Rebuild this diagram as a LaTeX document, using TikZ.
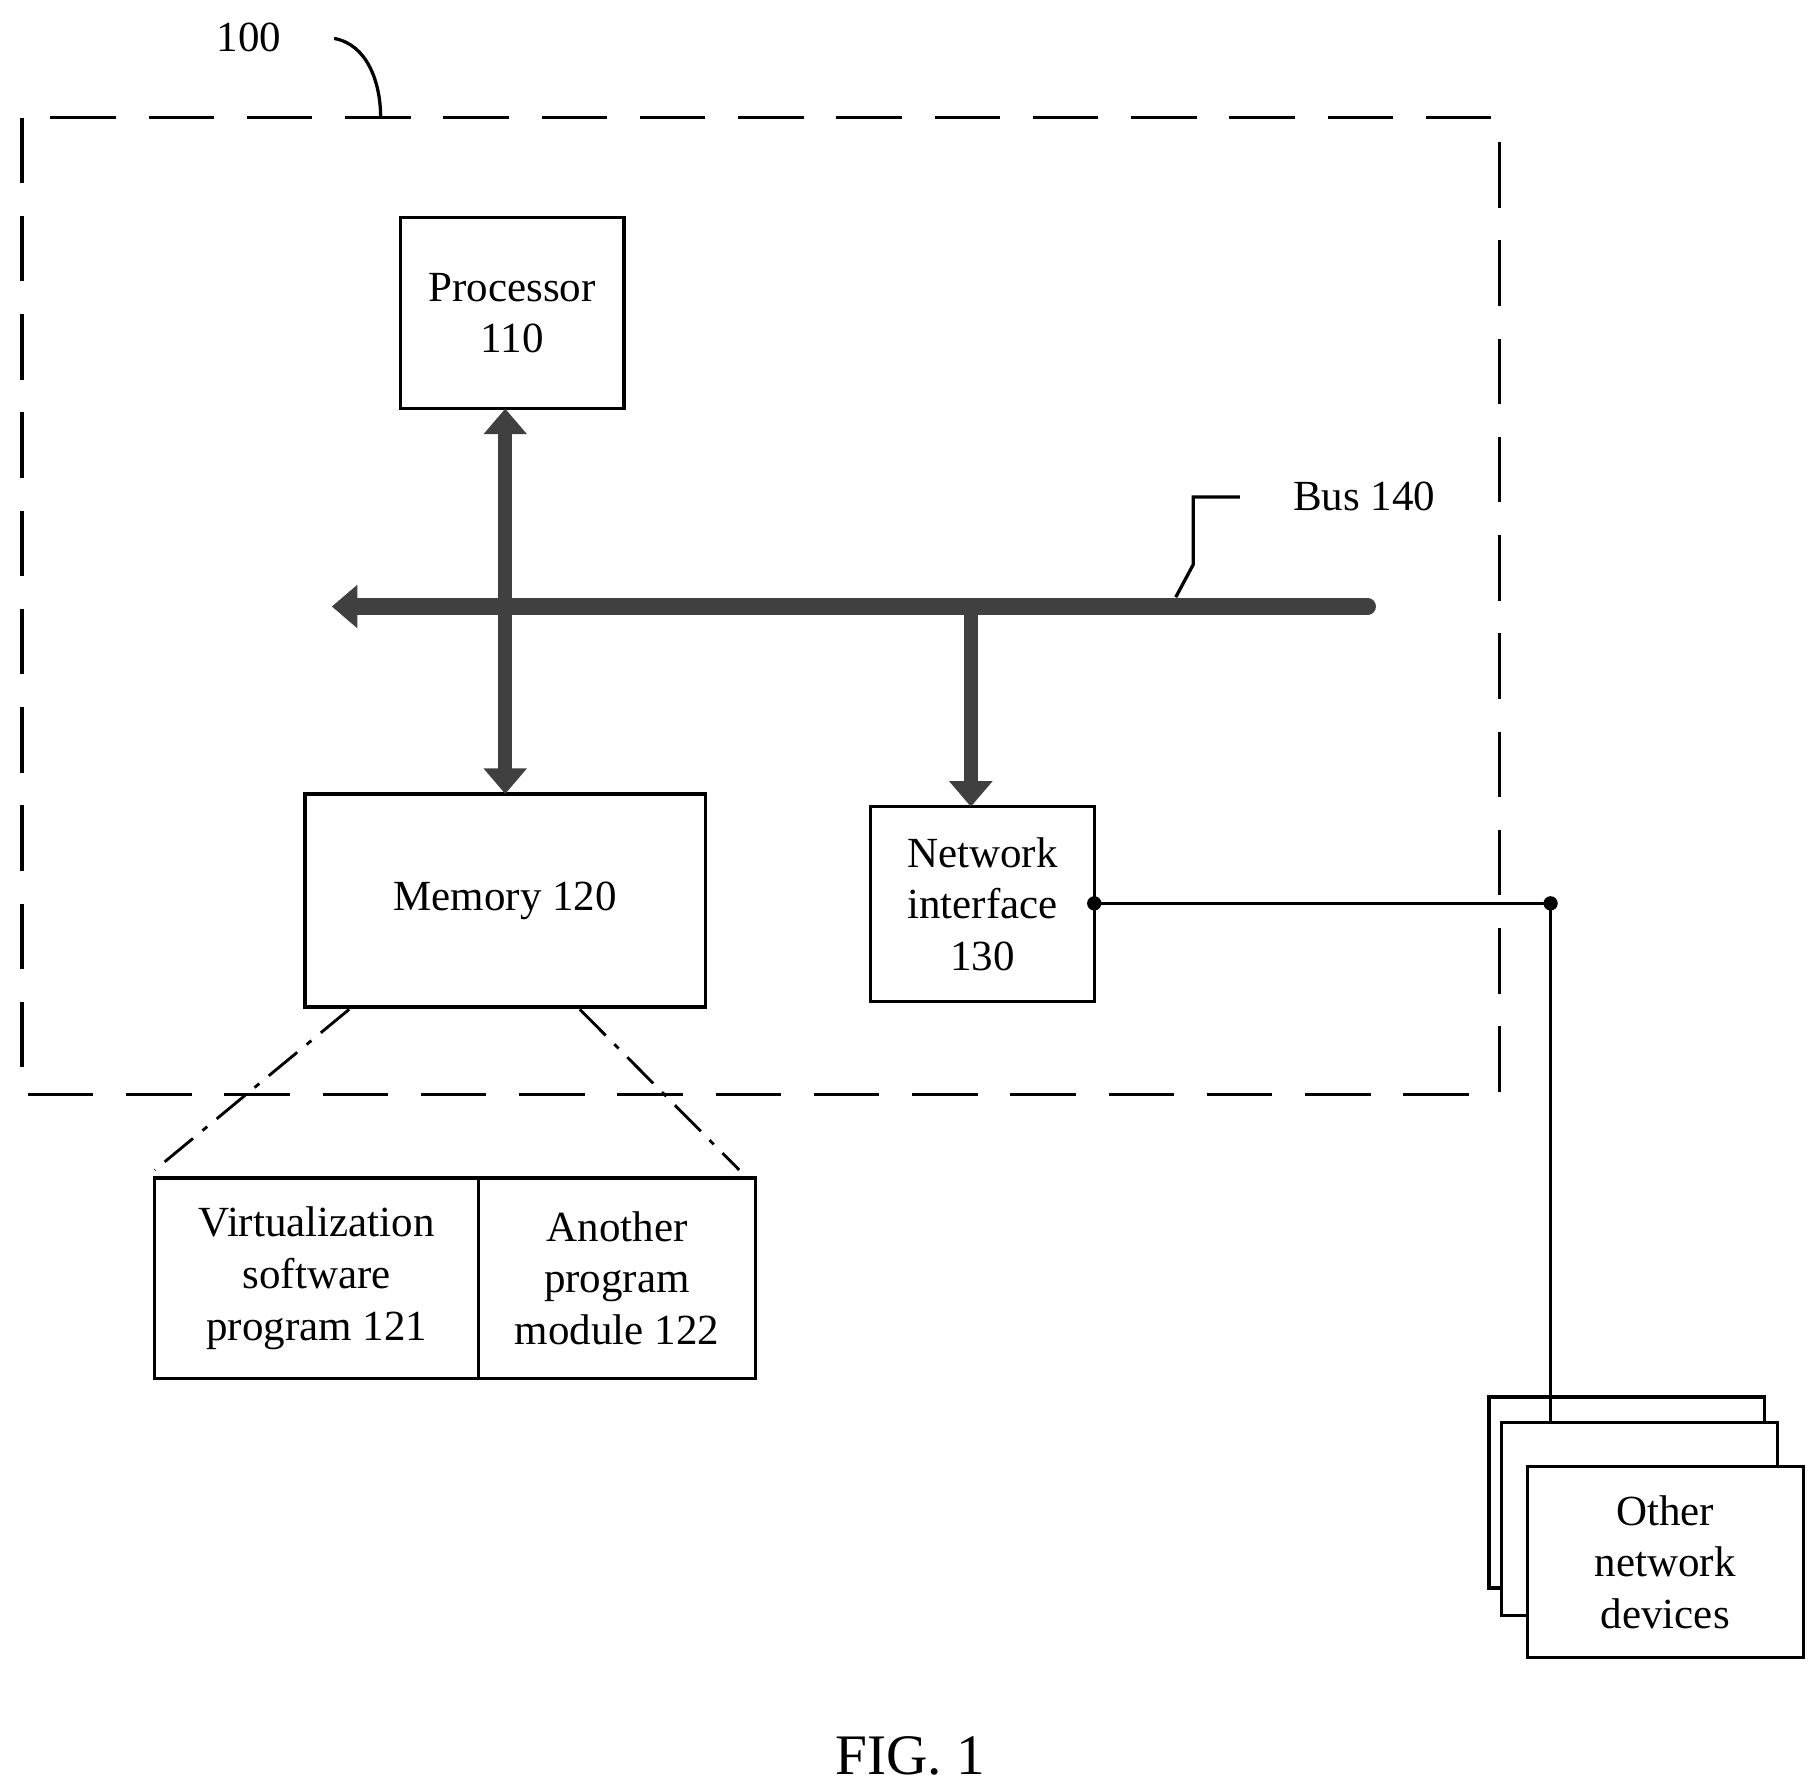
\documentclass[tikz,border=0pt]{standalone}
\usepackage{fontspec}
\setmainfont{Liberation Serif}
\usetikzlibrary{arrows.meta}
\begin{document}
\begin{tikzpicture}[x=0.01cm,y=-0.01cm,
  box/.style={draw,line width=0.8pt,align=center,font=\fontsize{10.5}{12.6}\selectfont},
  thick arrow/.style={line width=0.12cm,draw=black!75,-{Triangle[length=0.22cm,width=0.36cm]}},
  lbl/.style={font=\fontsize{10.5}{12.6}\selectfont}]
\useasboundingbox (0,0) rectangle (1560,1535);
\draw[dash pattern=on 16pt off 8pt,line width=0.8pt] (19,101) rectangle (1288,940);
\node[lbl] (l100) at (214,32) {100};
\draw[line width=0.8pt] (287,33) .. controls (315,38) and (327,70) .. (327,101);
\node[box,minimum width=1.92cm,minimum height=1.64cm] (proc) at (440,269) {Processor\\110};
\node[box,minimum width=3.44cm,minimum height=1.83cm] (mem) at (434,773.5) {Memory 120};
\node[box,minimum width=1.92cm,minimum height=1.67cm] (ni) at (844,776.5) {Network\\interface\\130};
\coordinate (busL) at (285,521);
\coordinate (busR) at (1175,521);
\draw[line width=0.14cm,draw=black!75,line cap=round] (300,521) -- (busR);
\draw[thick arrow] (310,521) -- (busL);
\draw[thick arrow,{Triangle[length=0.22cm,width=0.36cm]}-{Triangle[length=0.22cm,width=0.36cm]}] (434,351) -- (434,682);
\coordinate (busN) at (834,521);
\draw[thick arrow] (busN) -- (834,693);
\node[lbl] (bus) at (1172,426) {Bus 140};
\draw[line width=0.8pt] (1010,513) -- (1025,485) -- (1025,427) -- (1065,427);
\coordinate (ni1) at (940,776);
\coordinate (j) at (1332,776);
\draw[line width=0.8pt] (1279,1200) rectangle (1516,1364);
\draw[line width=0.8pt,fill=white] (1290,1222) rectangle (1527,1388);
\node[box,fill=white,minimum width=2.37cm,minimum height=1.64cm] (other) at (1430.5,1342) {Other\\network\\devices};
\draw[line width=0.8pt] (ni1) -- (j) -- (1332,1222);
\fill (ni1) circle (3.5pt*0.5);
\fill (j) circle (3.5pt*0.5);
\node[box,minimum width=2.78cm,minimum height=1.72cm] (v) at (272,1098) {Virtualization\\software\\program 121};
\node[box,minimum width=2.38cm,minimum height=1.72cm] (a) at (530,1098) {Another\\program\\module 122};
\draw[line width=0.7pt,dash pattern=on 9pt off 3pt on 1.5pt off 3pt] (300,867) -- (133,1005);
\draw[line width=0.7pt,dash pattern=on 9pt off 3pt on 1.5pt off 3pt] (498,867) -- (635,1005);
\node[font=\fontsize{14}{16}\selectfont] (fig) at (782,1508) {FIG. 1};
\end{tikzpicture}
\end{document}
